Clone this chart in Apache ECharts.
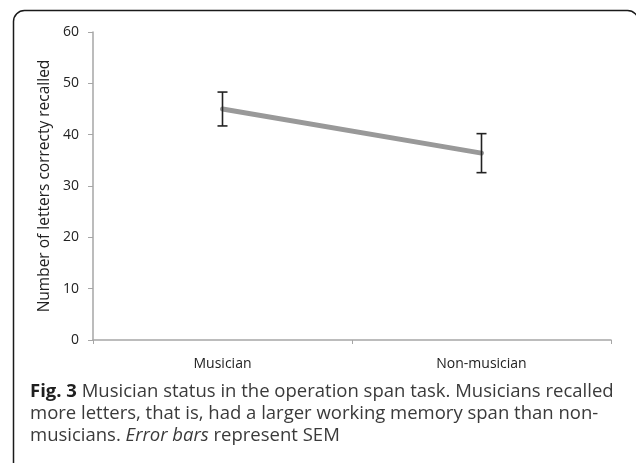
<!DOCTYPE html>
<html>
<head>
<meta charset="utf-8">
<script src="https://cdn.jsdelivr.net/npm/echarts@6/dist/echarts.min.js"></script>
<style>
html,body{margin:0;padding:0;background:#fff;}
#c{width:636px;height:463px;}
</style>
</head>
<body>
<div id="c"></div>
<script>
const categories = ['Musician', 'Non-musician'];
const means = [45.0, 36.4];
const sem = [3.3, 3.8];
const yTicks = [0, 10, 20, 30, 40, 50, 60];
const yTitle = 'Number of letters correcty recalled';
const captionLines = [
  ['Fig. 3', ' Musician status in the operation span task. Musicians recalled'],
  ['', 'more letters, that is, had a larger working memory span than non-'],
  ['', 'musicians. ', 'Error bars', ' represent SEM']
];

const chart = echarts.init(document.getElementById('c'), null, {renderer: 'canvas'});
const errData = categories.map((c, i) => [i, means[i] - sem[i], means[i] + sem[i]]);

const axisFont = '"Open Sans", sans-serif';
const capFont = '"Open Sans", sans-serif';
const capSize = 18.5;

function captionText(line) {
  let s = '';
  if (line[0]) s += '{b|' + line[0] + '}';
  s += '{n|' + line[1] + '}';
  if (line[2]) s += '{i|' + line[2] + '}{n|' + line[3] + '}';
  return s;
}
const capRich = {
  b: {fontFamily: capFont, fontSize: capSize, fontWeight: 'bold', fill: '#1f1f1f', lineHeight: 22},
  n: {fontFamily: capFont, fontSize: capSize, fill: '#3a3a3a', lineHeight: 22},
  i: {fontFamily: capFont, fontSize: capSize, fontStyle: 'italic', fill: '#3a3a3a', lineHeight: 22}
};

chart.setOption({
  animation: false,
  grid: {left: 93, right: 25, top: 32, bottom: 123},
  xAxis: {
    type: 'category',
    data: categories,
    boundaryGap: true,
    axisLine: {lineStyle: {color: '#a6a6a6', width: 1.5}},
    axisTick: {show: true, length: 4, lineStyle: {color: '#a6a6a6'}},
    axisLabel: {color: '#222', fontSize: 14, fontFamily: axisFont, margin: 17}
  },
  yAxis: {
    type: 'value',
    min: yTicks[0],
    max: yTicks[yTicks.length - 1],
    interval: 10,
    name: yTitle,
    nameLocation: 'middle',
    nameGap: 38,
    nameRotate: 90,
    nameTextStyle: {color: '#222', fontSize: 15.5, fontFamily: axisFont},
    axisLine: {show: true, lineStyle: {color: '#a6a6a6', width: 1.5}},
    axisTick: {show: true, length: 5, lineStyle: {color: '#a6a6a6'}},
    splitLine: {show: false},
    axisLabel: {color: '#222', fontSize: 14, fontFamily: axisFont, margin: 14}
  },
  series: [
    {
      type: 'line',
      data: means,
      symbol: 'none',
      lineStyle: {color: '#999999', width: 5, cap: 'round'},
      z: 2
    },
    {
      type: 'custom',
      data: errData,
      z: 3,
      renderItem: function (params, api) {
        const x = api.value(0);
        const lo = api.coord([x, api.value(1)]);
        const hi = api.coord([x, api.value(2)]);
        const hw = 5;
        const st = {stroke: '#222', lineWidth: 1.6};
        return {
          type: 'group',
          children: [
            {type: 'line', shape: {x1: hi[0], y1: hi[1], x2: lo[0], y2: lo[1]}, style: st},
            {type: 'line', shape: {x1: hi[0] - hw, y1: hi[1], x2: hi[0] + hw, y2: hi[1]}, style: st},
            {type: 'line', shape: {x1: lo[0] - hw, y1: lo[1], x2: lo[0] + hw, y2: lo[1]}, style: st}
          ]
        };
      }
    }
  ],
  graphic: [
    {
      type: 'rect',
      shape: {x: 13.5, y: 10.5, width: 625, height: 480, r: 11},
      style: {fill: 'none', stroke: '#1a1a1a', lineWidth: 1.5},
      silent: true
    }
  ].concat(captionLines.map((ln, i) => ({
    type: 'text',
    left: 30,
    top: 382 + i * 22,
    style: {text: captionText(ln), rich: capRich}
  })))
});
</script>
</body>
</html>
